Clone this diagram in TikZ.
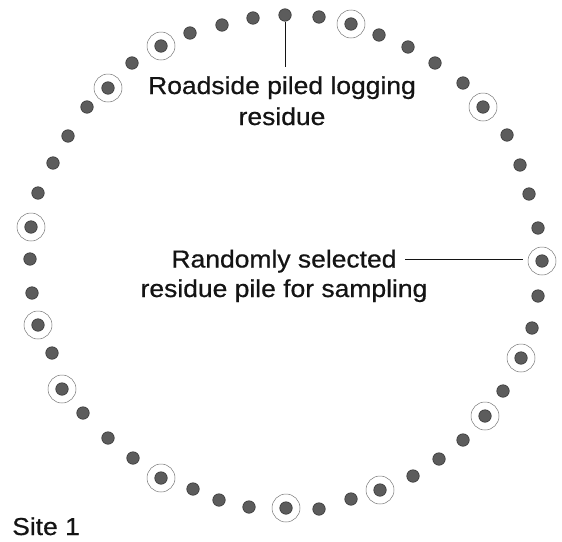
\documentclass[tikz,border=0pt]{standalone}
\usepackage{fontspec}
\setmainfont{Liberation Sans}[FakeStretch=1.08,FakeBold=0.6]
\definecolor{dotfill}{RGB}{92,92,92}
\definecolor{dotedge}{RGB}{55,55,55}
\definecolor{ringcol}{RGB}{120,120,120}
\definecolor{txt}{RGB}{20,20,20}
\begin{document}
\begin{tikzpicture}[x=1pt,y=-1pt,
  pile/.style={circle,fill=dotfill,draw=dotedge,line width=0.6pt,minimum size=12.5pt,inner sep=0pt},
  ring/.style={circle,draw=ringcol,line width=0.5pt,minimum size=28pt,inner sep=0pt},
  lbl/.style={text=txt,font=\fontsize{24.5}{31}\selectfont,align=center,inner sep=0pt},
  lead/.style={draw=txt,line width=0.9pt}]
\useasboundingbox[fill=white] (0,0) rectangle (562,541);
\foreach \n/\x/\y in {1/30/259,2/31/227,3/38/193,4/53/163,5/68/136,6/87/107,7/108/88,8/132/63,
  9/161/46,10/190/33,11/222/25,12/253/18,13/285/15,14/319/17,15/351/24,16/379/35,17/408/47,
  18/435/63,19/463/83,20/483/107,21/507/135,22/520/165,23/529/194,24/538/228,25/542/261,
  26/538/296,27/532/328,28/521/358,29/503/391,30/485/416,31/463/440,32/439/459,33/413/476,
  34/380/490,35/351/499,36/319/509,37/286/508,38/249/507,39/219/500,40/193/489,41/161/478,
  42/133/458,43/108/438,44/83/413,45/62/389,46/52/353,47/38/325,48/32/293}
  \node[pile] (d\n) at (\x,\y) {};
\foreach \n in {2,7,9,15,20,25,28,30,34,37,41,45,47}
  \node[ring] (r\n) at (d\n) {};
\node[lbl,anchor=base] (lab1) at (282,125) {Roadside piled logging\\residue};
\node[lbl,anchor=base,font=\fontsize{24.5}{29.5}\selectfont] (lab2) at (284,297) {Randomly selected\\residue pile for sampling};
\node[lbl,anchor=base west] (site) at (12,535) {Site 1};
\coordinate (c1) at (405,259);
\draw[lead] (d13.south) -- (d13.south |- 0,67);
\draw[lead] (c1) -- ([xshift=-5pt]c1 -| r25.west);
\end{tikzpicture}
\end{document}
